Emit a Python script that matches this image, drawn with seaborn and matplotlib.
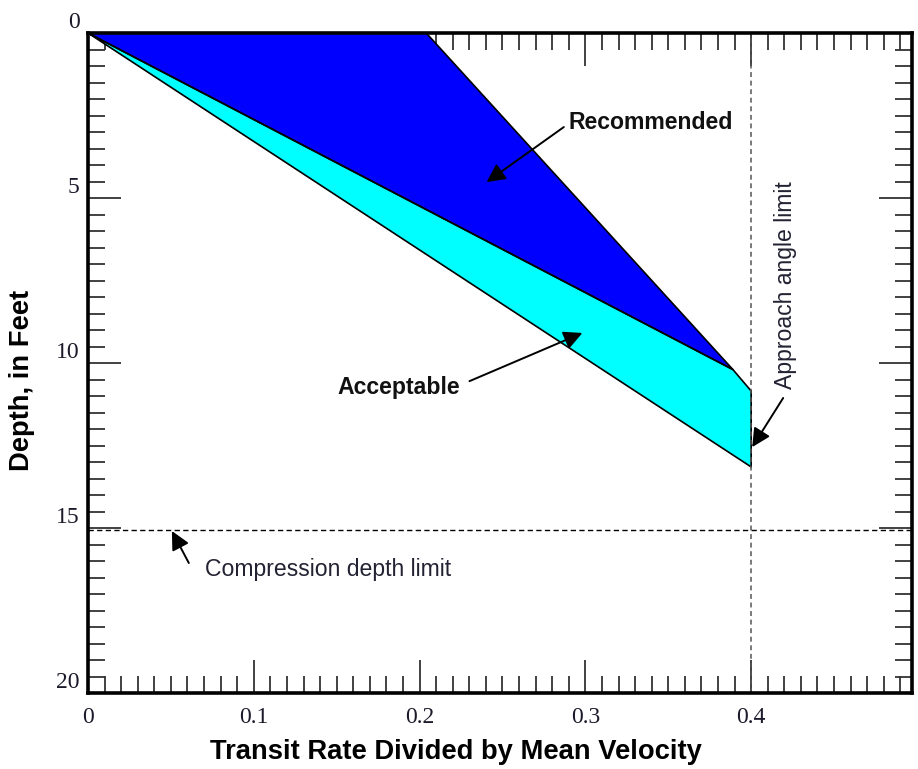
import matplotlib
matplotlib.use('Agg')
import matplotlib.pyplot as plt
import seaborn as sns
import pandas as pd
from matplotlib.ticker import MultipleLocator

# ---- data ----
rec_x = [0.0, 0.204, 0.389, 0.0]
rec_y = [0.0, 0.0, 10.2, 0.0]
acc_x = [0.0, 0.389, 0.400, 0.400, 0.0]
acc_y = [0.0, 10.2, 10.85, 13.15, 0.0]
compression_depth = 15.05
approach_limit = 0.40
x_ticks = [0, 0.1, 0.2, 0.3, 0.4]
x_tick_labels = ['0', '0.1', '0.2', '0.3', '0.4']
y_ticks = [0, 5, 10, 15, 20]

sns.set_theme(style='white')
plt.rcParams['font.family'] = ['Liberation Sans', 'DejaVu Sans']

W, H = 918, 769
fig = plt.figure(figsize=(W / 100, H / 100), dpi=100)
L, R, T, B = 88, 912, 33, 693
ax = fig.add_axes([L / W, 1 - B / H, (R - L) / W, (B - T) / H])

rec = pd.DataFrame({'x': rec_x, 'y': rec_y})
acc = pd.DataFrame({'x': acc_x, 'y': acc_y})

ax.fill(acc['x'], acc['y'], color='#00FFFF', zorder=2, lw=0)
ax.fill(rec['x'], rec['y'], color='#0000FF', zorder=2, lw=0)
sns.lineplot(data=acc, x='x', y='y', sort=False, estimator=None,
             color='black', lw=1.2, ax=ax, zorder=3)
sns.lineplot(data=rec, x='x', y='y', sort=False, estimator=None,
             color='black', lw=1.2, ax=ax, zorder=3)

ax.axhline(compression_depth, color='black', lw=1.0, ls=(0, (3.8, 2.4)), zorder=4)
ax.axvline(approach_limit, color='#555555', lw=1.1, ls=(0, (3.2, 2.4)), zorder=4)

ax.set_xlim(0, 0.497)
ax.set_ylim(20, 0)

ax.xaxis.set_major_locator(MultipleLocator(0.1))
ax.xaxis.set_minor_locator(MultipleLocator(0.01))
ax.yaxis.set_major_locator(MultipleLocator(5))
ax.yaxis.set_minor_locator(MultipleLocator(0.5))
ax.set_xticks(x_ticks)
ax.set_xticklabels(x_tick_labels)
ax.set_yticks(y_ticks)
ax.set_yticklabels([str(v) for v in y_ticks])

ax.tick_params(which='both', direction='in', top=True, right=True,
               bottom=True, left=True, color='#333333', width=1.3)
ax.tick_params(which='major', length=24)
ax.tick_params(which='minor', length=12)
ax.tick_params(axis='x', which='major', pad=10, labelsize=17, labelcolor='#1a1a2a')
ax.tick_params(axis='y', which='major', pad=6, labelsize=17, labelcolor='#1a1a2a')
for lbl in ax.get_xticklabels() + ax.get_yticklabels():
    lbl.set_family(['Liberation Serif', 'DejaVu Serif'])
for lbl in ax.get_yticklabels():
    lbl.set_va('bottom')

for s in ax.spines.values():
    s.set_linewidth(2.6)
    s.set_color('black')
    s.set_zorder(6)

ax.set_xlabel('Transit Rate Divided by Mean Velocity', fontsize=19.7,
              fontweight='bold', color='black')
ax.xaxis.set_label_coords((455.5 - L) / (R - L), -(752 - B) / (B - T))
ax.xaxis.label.set_va('center')
ax.set_ylabel('Depth, in Feet', fontsize=19.7, fontweight='bold', color='black')
ax.yaxis.set_label_coords((22 - L) / (R - L), (B - 380) / (B - T))
ax.yaxis.label.set_va('center')

arrow = dict(arrowstyle='-|>', color='black', lw=1.4, mutation_scale=28,
             shrinkA=0, shrinkB=0)

ax.text(0.290, 2.7, 'Recommended', fontsize=16.6, fontweight='bold',
        ha='left', va='center', color='#111111', zorder=7)
ax.annotate('', xy=(0.2404, 4.52), xytext=(0.287, 2.85), arrowprops=arrow, zorder=7)

ax.text(0.1506, 10.73, 'Acceptable', fontsize=16.6, fontweight='bold',
        ha='left', va='center', color='#111111', zorder=7)
ax.annotate('', xy=(0.2982, 9.09), xytext=(0.2301, 10.55), arrowprops=arrow, zorder=7)

ax.text(0.0705, 16.27, 'Compression depth limit', fontsize=16.6,
        ha='left', va='center', color='#222233', zorder=7)
ax.annotate('', xy=(0.0506, 15.09), xytext=(0.0608, 16.06), arrowprops=arrow, zorder=7)

ax.text(0.4205, 7.64, 'Approach angle limit', fontsize=16.6, rotation=90,
        ha='center', va='center', color='#222233', zorder=7)
ax.annotate('', xy=(0.4006, 12.55), xytext=(0.4193, 11.06), arrowprops=arrow, zorder=7)

fig.savefig('out.png', dpi=100, facecolor='white')
